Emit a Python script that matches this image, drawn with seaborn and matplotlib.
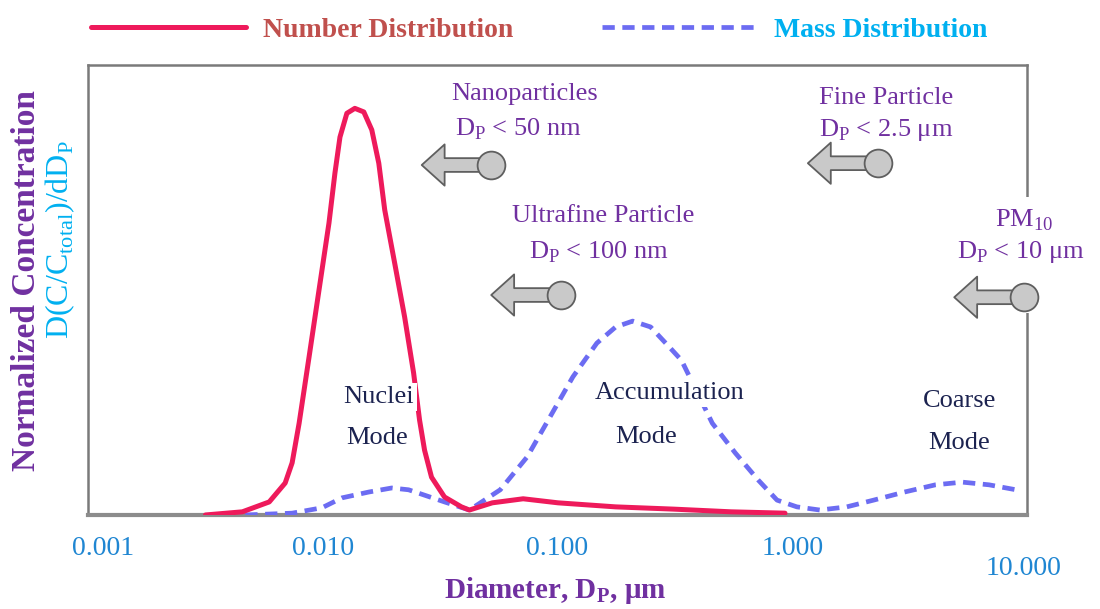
import matplotlib
matplotlib.use("Agg")
import matplotlib.pyplot as plt
import seaborn as sns
import pandas as pd
from matplotlib.patches import Rectangle
from matplotlib.transforms import ScaledTranslation

# ---------------- data ----------------
number_diam = [0.003165, 0.004545, 0.005916, 0.006917, 0.007407, 0.007932, 0.008743,
               0.009640, 0.01063, 0.01127, 0.01184, 0.01267, 0.01370, 0.01496, 0.01618,
               0.01733, 0.01837, 0.02025, 0.02233, 0.02438, 0.02585, 0.02715, 0.02907,
               0.03301, 0.03898, 0.04214, 0.05277, 0.07142, 0.1005, 0.1770, 0.3120,
               0.5497, 0.9316]
number_conc = [0.0, 0.7, 2.9, 7.1, 11.6, 20.4, 35.1,
               50.0, 64.9, 76.0, 84.0, 89.3, 90.4, 89.6, 85.6,
               78.2, 67.8, 56.0, 44.0, 31.6, 21.1, 14.4, 8.4,
               4.0, 1.8, 1.1, 2.7, 3.6, 2.7, 1.8, 1.3,
               0.7, 0.4]

mass_diam = [0.004680, 0.007407, 0.009926, 0.01207, 0.01571, 0.01967, 0.02321, 0.02715,
             0.03301, 0.04214, 0.05704, 0.07425, 0.09294, 0.1163, 0.1471, 0.1770,
             0.2091, 0.2492, 0.3000, 0.3374, 0.4566, 0.5718, 0.7154, 0.8617, 1.047,
             1.311, 1.707, 2.222, 3.008, 4.072, 5.301, 6.899, 8.982]
mass_conc = [0.0, 0.4, 1.6, 3.8, 5.1, 6.0, 5.6, 4.4,
             2.9, 1.1, 5.6, 12.9, 21.8, 30.7, 38.2, 41.8,
             43.1, 41.8, 37.3, 34.4, 20.4, 13.8, 7.8, 3.3, 1.8,
             1.1, 1.8, 3.3, 5.1, 6.7, 7.3, 6.7, 5.6]

tick_values = [0.001, 0.01, 0.1, 1, 10]
tick_labels = ["0.001", "0.010", "0.100", "1.000", "10.000"]
series_names = ["Number Distribution", "Mass Distribution"]

classes_title = ["Nanoparticles", "Ultrafine Particle", "Fine Particle", r"PM$_\mathregular{10}$"]
classes_limit = [r"D$_\mathregular{P}$ < 50 nm", r"D$_\mathregular{P}$ < 100 nm",
                 r"D$_\mathregular{P}$ < 2.5 μm", r"D$_\mathregular{P}$ < 10 μm"]
mode_names = ["Nuclei", "Accumulation", "Coarse"]
mode_word = "Mode"

# ---------------- style ----------------
sns.set_style("white")
plt.rcParams['font.family'] = ['Liberation Serif', 'DejaVu Serif']
plt.rcParams['mathtext.fontset'] = 'custom'
plt.rcParams['mathtext.rm'] = 'Liberation Serif'

RED = "#ee1a5b"
BLUE = "#6c6cf2"
PURPLE = "#7030a0"
CYAN = "#00b0f0"
NAVY = "#1c2350"
TICKBLUE = "#1f86d2"

fig = plt.figure(figsize=(11, 6.09), dpi=100)
ax = fig.add_axes([0.08, 0.1544, 0.8536, 0.7386])

df_num = pd.DataFrame({"d": number_diam, "c": number_conc})
df_mass = pd.DataFrame({"d": mass_diam, "c": mass_conc})

sns.lineplot(data=df_num, x="d", y="c", ax=ax, color=RED, linewidth=3.6,
             label=series_names[0], solid_capstyle="round", solid_joinstyle="round", zorder=4)
sns.lineplot(data=df_mass, x="d", y="c", ax=ax, color=BLUE, linewidth=3.4,
             label=series_names[1], zorder=3)
ax.lines[1].set_linestyle((0, (2.6, 1.6)))

ax.set_xscale("log")
ax.set_xlim(0.001, 10)
ax.set_ylim(0, 100)
ax.set_xticks(tick_values)
ax.set_xticklabels(tick_labels)
ax.minorticks_off()
ax.set_yticks([])
ax.set_xlabel("")
ax.set_ylabel("")

for s in ["left", "right", "top"]:
    ax.spines[s].set_color("#7a7a7a")
    ax.spines[s].set_linewidth(1.8)
ax.spines["bottom"].set_color("#8c8c8c")
ax.spines["bottom"].set_linewidth(3)

ax.tick_params(axis="x", direction="inout", length=10, width=1.5, color="#444444",
               labelsize=20, labelcolor=TICKBLUE, pad=10)
labels = ax.get_xticklabels()
labels[-1].set_transform(labels[-1].get_transform() +
                         ScaledTranslation(-0.03, -0.2, fig.dpi_scale_trans))
labels[0].set_transform(labels[0].get_transform() +
                        ScaledTranslation(0.15, 0, fig.dpi_scale_trans))

# white gap on the right spine behind PM10
ax.add_patch(Rectangle((0.99, 0.449), 0.03, 0.258, transform=ax.transAxes,
                       facecolor="white", edgecolor="none", zorder=2.6, clip_on=False))

# ---------------- legend ----------------
ax.get_legend().remove()
handles = ax.lines[:2]
leg = fig.legend(handles, series_names, loc="upper center", bbox_to_anchor=(0.49, 1.012),
                 ncol=2, frameon=False, handlelength=5.6, columnspacing=3.2,
                 handletextpad=0.6, prop={"size": 20, "weight": "bold"})
for t, c in zip(leg.get_texts(), ["#c0504d", CYAN]):
    t.set_color(c)

# ---------------- axis labels ----------------
fig.text(0.024, 0.54, "Normalized Concentration", rotation=90, ha="center", va="center",
         color=PURPLE, fontsize=24, fontweight="bold")
fig.text(0.055, 0.606, r"D(C/C$_\mathregular{total}$)/dD$_\mathregular{P}$", rotation=90,
         ha="center", va="center", color=CYAN, fontsize=23)
fig.text(0.505, 0.03, r"Diameter, D$_\mathregular{P}$, μm", ha="center", va="center",
         color=PURPLE, fontsize=21, fontweight="bold")

# ---------------- size-class annotations ----------------
title_pos = [(0.0721, 93.5), (0.157, 66.5), (2.52, 92.8), (9.7, 65.5)]
limit_pos = [(0.068, 85.8), (0.150, 58.5), (2.52, 85.5), (9.4, 58.5)]
arrow_head = [(0.0264, 77.8), (0.0522, 48.9), (1.166, 78.2), (4.90, 48.4)]
arrow_tail = [(0.0522, 77.8), (0.1035, 48.9), (2.31, 78.2), (9.71, 48.4)]

for i in range(4):
    bb = dict(facecolor="white", edgecolor="none", pad=1) if i == 3 else None
    ax.text(*title_pos[i], classes_title[i], ha="center", va="center", color=PURPLE,
            fontsize=19, zorder=6, clip_on=False, bbox=bb)
    ax.text(*limit_pos[i], classes_limit[i], ha="center", va="center", color=PURPLE,
            fontsize=19, zorder=6, clip_on=False, bbox=bb)
    ax.annotate("", xy=arrow_head[i], xytext=arrow_tail[i],
                arrowprops=dict(arrowstyle="simple,head_length=0.75,head_width=1.35,tail_width=0.45",
                                fc="#c9c9c9", ec="#5f5f5f", lw=1.3, shrinkA=0, shrinkB=0,
                                mutation_scale=22),
                zorder=6, annotation_clip=False)
    ax.plot([arrow_tail[i][0]], [arrow_tail[i][1]], marker="o", markersize=20,
            markerfacecolor="#c9c9c9", markeredgecolor="#5f5f5f", markeredgewidth=1.3,
            zorder=7, clip_on=False)

# ---------------- mode labels (white boxes cut the curves) ----------------
name_pos = [(0.01733, 26.2), (0.300, 27.1), (5.15, 25.3)]
word_pos = [(0.01699, 17.1), (0.2396, 17.3), (5.15, 16.0)]
wb = dict(facecolor="white", edgecolor="none", pad=2)
for n, p1, p2 in zip(mode_names, name_pos, word_pos):
    ax.text(*p1, n, ha="center", va="center", color=NAVY, fontsize=19, zorder=6, bbox=wb)
    ax.text(*p2, mode_word, ha="center", va="center", color=NAVY, fontsize=19, zorder=6, bbox=wb)

fig.savefig("out.png", dpi=100)
